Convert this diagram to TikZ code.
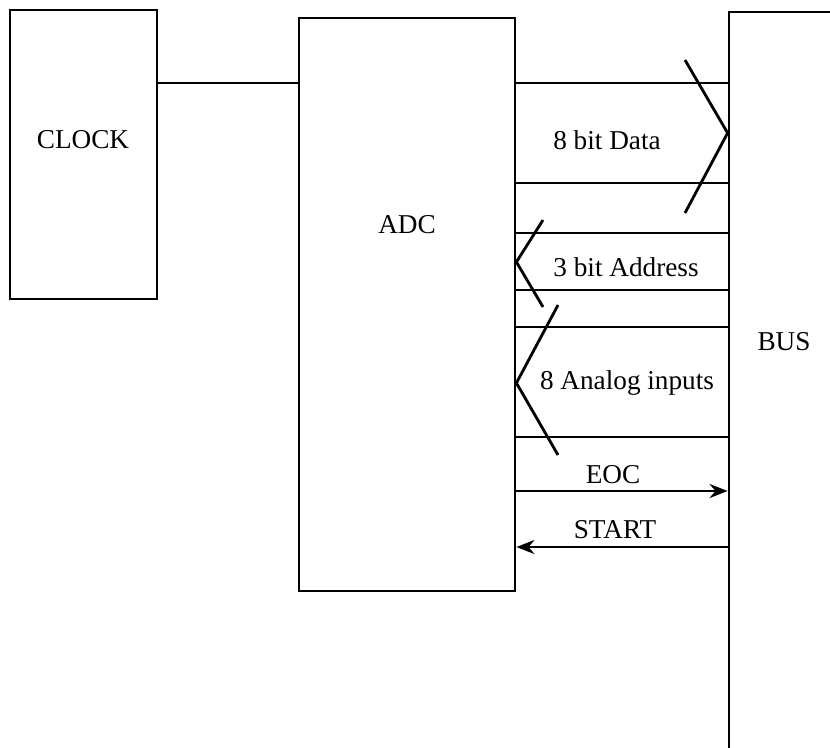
\documentclass[tikz,border=0pt]{standalone}
\usepackage{fontspec}
\setmainfont{Liberation Serif}
\usetikzlibrary{arrows.meta}
\begin{document}
\begin{tikzpicture}[x=0.02cm, y=-0.02cm, >={Stealth[length=3.6mm, width=2.8mm]},
  line width=1.6pt,
  block/.style={draw, rectangle, inner sep=0pt},
  lbl/.style={font=\fontsize{15.5}{18}\selectfont, inner sep=1pt}]
% Rahmen 830 x 747
\clip (0,0) rectangle (830,747);
% Bloecke
\node[block, minimum width=147*0.02cm, minimum height=289*0.02cm] (clock) at (83.5,154.5) {};
\node[block, minimum width=216*0.02cm, minimum height=573*0.02cm] (adc)   at (407,304.5) {};
\node[block, minimum width=300*0.02cm, minimum height=900*0.02cm] (bus)   at (879,462) {};
% Beschriftungen
\node[lbl] (clocktxt) at (83,140)  {CLOCK};
\node[lbl] (adctxt)   at (407,225) {ADC};
\node[lbl] (bustxt)   at (784,342) {BUS};
% Takt
\coordinate (clk) at (0,83);
\draw (clock.east |- clk) -- (adc.west |- clk);
% 8 bit Data (ADC -> BUS)
\coordinate (d1) at (0,83);
\coordinate (d2) at (0,183);
\draw (adc.east |- d1) -- (bus.west |- d1);
\draw (adc.east |- d2) -- (bus.west |- d2);
\draw (685,60) -- (bus.west |- 0,133) -- (685,213);
\node[lbl] (datatxt) at (607,140) {8 bit Data};
% 3 bit Address (BUS -> ADC)
\coordinate (a1) at (0,233);
\coordinate (a2) at (0,290);
\draw (adc.east |- a1) -- (bus.west |- a1);
\draw (adc.east |- a2) -- (bus.west |- a2);
\draw (543,220) -- (adc.east |- 0,262) -- (543,307);
\node[lbl] (addrtxt) at (626,267) {3 bit Address};
% 8 Analog inputs
\coordinate (n1) at (0,327);
\coordinate (n2) at (0,437);
\draw (adc.east |- n1) -- (bus.west |- n1);
\draw (adc.east |- n2) -- (bus.west |- n2);
\draw (558,305) -- (adc.east |- 0,383) -- (558,455);
\node[lbl] (anatxt) at (627,383) {8 Analog inputs};
% Steuerleitungen
\coordinate (eoc)   at (0,491);
\coordinate (start) at (0,547);
\draw[->] (adc.east |- eoc) -- (bus.west |- eoc);
\draw[->] (bus.west |- start) -- (adc.east |- start);
\node[lbl] (eoctxt)   at (613,475) {EOC};
\node[lbl] (starttxt) at (615,530) {START};
\end{tikzpicture}
\end{document}
